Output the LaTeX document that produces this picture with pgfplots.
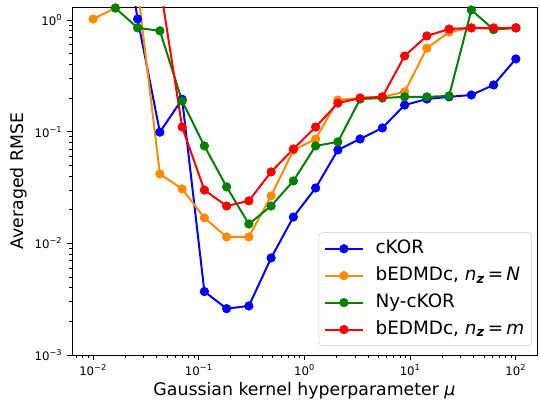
\documentclass[border=0pt]{standalone}
\usepackage{fontspec}
\setmainfont{DejaVu Sans}
\usepackage{pgfplots}
\pgfplotsset{compat=1.18}

\definecolor{cblue}{RGB}{0,0,255}
\definecolor{corange}{RGB}{255,140,0}
\definecolor{cgreen}{RGB}{0,128,0}
\definecolor{cred}{RGB}{255,0,0}

\newcommand{\pw}[1]{10\textsuperscript{#1}}

\begin{document}
\begin{tikzpicture}
\begin{axis}[
  xmode=log, ymode=log,
  scale only axis,
  width=348.75pt, height=261pt,
  xmin=0.00630957, xmax=158.489,
  ymin=0.001, ymax=1.307,
  xtick={0.01,0.1,1,10,100},
  xticklabels={\pw{−2},\pw{−1},\pw{0},\pw{1},\pw{2}},
  ytick={0.001,0.01,0.1,1},
  yticklabels={\pw{−3},\pw{−2},\pw{−1},\pw{0}},
  minor xtick={0.007,0.008,0.009,0.02,0.03,0.04,0.05,0.06,0.07,0.08,0.09,
               0.2,0.3,0.4,0.5,0.6,0.7,0.8,0.9,2,3,4,5,6,7,8,9,
               20,30,40,50,60,70,80,90},
  minor ytick={0.002,0.003,0.004,0.005,0.006,0.007,0.008,0.009,
               0.02,0.03,0.04,0.05,0.06,0.07,0.08,0.09,
               0.2,0.3,0.4,0.5,0.6,0.7,0.8,0.9},
  tick align=outside,
  xtick pos=bottom, ytick pos=left,
  major tick length=3.75pt, minor tick length=2.2pt,
  tick style={black, line width=0.6pt},
  axis line style={line width=0.6pt},
  tick label style={font=\fontsize{8.8}{10}\selectfont},
  label style={font=\fontsize{13}{15}\selectfont, inner sep=0pt},
  xlabel={Gaussian kernel hyperparameter \textit{μ}},
  ylabel={Averaged RMSE},
  xlabel style={at={(axis description cs:0.5,-0.1035)}, anchor=center},
  ylabel style={at={(axis description cs:-0.115,0.5)}, anchor=center},
  legend style={
    at={(axis description cs:0.989,0.026)}, anchor=south east,
    draw=black!20, rounded corners=2.5pt, fill=white,
    font=\fontsize{13.8}{16}\selectfont,
    inner xsep=3.5pt, inner ysep=3.5pt,
    row sep=3pt,
    nodes={inner sep=2pt, text height=10pt, text depth=3.2pt},
    /tikz/every odd column/.append style={column sep=6.5pt},
  },
  legend cell align=left,
  legend image code/.code={\draw[mark repeat=2, mark phase=2]
    plot coordinates {(0pt,0pt) (14.5pt,0pt) (29pt,0pt)};},
]
\coordinate (sw) at (rel axis cs:0,0);
\coordinate (ne) at (rel axis cs:1,1);

% cKOR
\addplot[cblue, line width=1.5pt, mark=*, mark size=3.2pt, mark options={solid, line width=0.5pt}]
  coordinates {
  (0.010000,20) (0.016238,17) (0.026367,1.02) (0.042813,0.099) (0.069519,0.195)
  (0.112884,0.0037) (0.183298,0.0026) (0.297635,0.00275) (0.483293,0.0074)
  (0.784760,0.0172) (1.274275,0.0313) (2.069138,0.0686) (3.359818,0.086)
  (5.455595,0.108) (8.858668,0.173) (14.384499,0.196) (23.357215,0.205)
  (37.926902,0.213) (61.584821,0.262) (100.0,0.448)
  };
\addlegendentry{cKOR}

% bEDMDc with n_z = N
\addplot[corange, line width=1.5pt, mark=*, mark size=3.2pt, mark options={solid, line width=0.5pt}]
  coordinates {
  (0.010000,1.02) (0.016238,1.28) (0.026367,1.9) (0.042813,0.0418) (0.069519,0.0307)
  (0.112884,0.0169) (0.183298,0.0114) (0.297635,0.0114) (0.483293,0.0266)
  (0.784760,0.068) (1.274275,0.086) (2.069138,0.192) (3.359818,0.2)
  (5.455595,0.205) (8.858668,0.227) (14.384499,0.56) (23.357215,0.78)
  (37.926902,0.85) (61.584821,0.83) (100.0,0.85)
  };
\addlegendentry{bEDMDc, \textit{n}\textsubscript{\textbf{\textit{z}}}\,=\,\textit{N}}

% Nystroem cKOR
\addplot[cgreen, line width=1.5pt, mark=*, mark size=3.2pt, mark options={solid, line width=0.5pt}]
  coordinates {
  (0.010000,5) (0.016238,1.28) (0.026367,0.85) (0.042813,0.80) (0.069519,0.188)
  (0.112884,0.0745) (0.183298,0.032) (0.297635,0.0149) (0.483293,0.0216)
  (0.784760,0.0362) (1.274275,0.0745) (2.069138,0.081) (3.359818,0.196)
  (5.455595,0.2) (8.858668,0.205) (14.384499,0.205) (23.357215,0.209)
  (37.926902,1.23) (61.584821,0.82) (100.0,0.85)
  };
\addlegendentry{Ny-cKOR}

% bEDMDc with n_z = m
\addplot[cred, line width=1.5pt, mark=*, mark size=3.2pt, mark options={solid, line width=0.5pt}]
  coordinates {
  (0.010000,5) (0.016238,5) (0.026367,5) (0.042813,2.1) (0.069519,0.110)
  (0.112884,0.030) (0.183298,0.0216) (0.297635,0.024) (0.483293,0.0436)
  (0.784760,0.070) (1.274275,0.110) (2.069138,0.18) (3.359818,0.2)
  (5.455595,0.205) (8.858668,0.476) (14.384499,0.72) (23.357215,0.83)
  (37.926902,0.85) (61.584821,0.85) (100.0,0.85)
  };
\addlegendentry{bEDMDc, \textit{n}\textsubscript{\textbf{\textit{z}}}\,=\,\textit{m}}
\end{axis}
\path ([xshift=-54pt,yshift=-35.25pt]sw) rectangle ([xshift=2.25pt,yshift=5.25pt]ne);
\end{tikzpicture}
\end{document}
